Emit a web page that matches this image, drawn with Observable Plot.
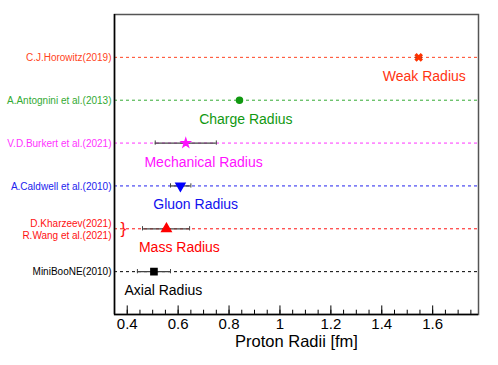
<!DOCTYPE html>
<html>
<head>
<meta charset="utf-8">
<script src="https://cdn.jsdelivr.net/npm/d3@7"></script>
<script src="https://cdn.jsdelivr.net/npm/@observablehq/plot@0.6"></script>
<style>
  html, body { margin: 0; padding: 0; background: #fff; }
  svg { display: block; }
</style>
</head>
<body>
<div id="chart"></div>
<script>
// Rows, from top to bottom
const refs = ["C.J.Horowitz(2019)", "A.Antognini et al.(2013)", "V.D.Burkert et al.(2021)", "A.Caldwell et al.(2010)", "D.Kharzeev(2021)\nR.Wang et al.(2021)", "MiniBooNE(2010)"];
const radiusNames = ["Weak Radius", "Charge Radius", "Mechanical Radius", "Gluon Radius", "Mass Radius", "Axial Radius"];
const rowPos = [6, 5, 4, 3, 2, 1];
const values = [1.545, 0.841, 0.63, 0.609, 0.554, 0.505];
const errLow = [1.535, 0.840, 0.51, 0.57, 0.46, 0.44];
const errHigh = [1.555, 0.842, 0.75, 0.65, 0.645, 0.57];
const labelOffsetX = [1.567, 0.866, 0.70, 0.669, 0.605, 0.542];
const refColors = ["#ff4422", "#33aa33", "#ff33ff", "#2222ee", "#ff1111", "#000000"];
const markColors = ["#ff3300", "#119911", "#ff11ff", "#0000ff", "#ff0000", "#000000"];
const labelColors = ["#ff3311", "#119911", "#ff11ff", "#1111ee", "#ff0000", "#000000"];
const symbols = ["times", "circle", "star", "triangle", "triangle", "square"];
const rotations = [0, 0, 0, 180, 0, 0];
const sizes = [4.5, 4.5, 3.3, 5.5, 6, 6];
const majorTicks = [0.4, 0.6, 0.8, 1.0, 1.2, 1.4, 1.6];
const minorTicks = d3.range(0.35, 1.78, 0.05).map(v => +v.toFixed(2));
const xDomain = [0.35, 1.78];

const rows = refs.map((r, i) => ({
  ref: r, name: radiusNames[i], y: rowPos[i], v: values[i],
  lo: errLow[i], hi: errHigh[i], lx: labelOffsetX[i],
  rc: refColors[i], mc: markColors[i], lc: labelColors[i],
  sym: symbols[i], rot: rotations[i], r: sizes[i]
}));
const hasErr = rows.filter(d => d.hi - d.lo > 0.005);

const plot = Plot.plot({
  width: 498, height: 365,
  marginLeft: 114, marginRight: 20, marginTop: 14, marginBottom: 51,
  style: { fontFamily: "'Liberation Sans', Arial, Helvetica, sans-serif", background: "#fff" },
  x: { domain: xDomain },
  y: { domain: [0, 7], axis: null },
  marks: [
    // dashed row guides
    Plot.ruleY(rows, { y: "y", stroke: "rc", strokeDasharray: "3,3", strokeWidth: 1 }),
    // error bars
    Plot.ruleY(hasErr, { y: "y", x1: "lo", x2: "hi", stroke: "#444", strokeWidth: 1.3 }),
    Plot.ruleX(hasErr, { x: "lo", y1: d => d.y - 0.05, y2: d => d.y + 0.05, stroke: "#444", strokeWidth: 1 }),
    Plot.ruleX(hasErr, { x: "hi", y1: d => d.y - 0.05, y2: d => d.y + 0.05, stroke: "#444", strokeWidth: 1 }),
    // markers
    Plot.dot(rows.filter(d => d.sym !== "times"), { x: "v", y: "y", symbol: "sym", fill: "mc", stroke: "mc", r: "r", rotate: "rot" }),
    Plot.dot(rows.filter(d => d.sym === "times"), { x: "v", y: "y", symbol: "times", stroke: "mc", r: "r", strokeWidth: 3.2 }),
    // radius names under each row
    Plot.text(rows, { x: "lx", y: "y", text: "name", fill: "lc", dy: 19, fontSize: 14 }),
    // reference labels left of frame
    Plot.text(rows, { y: "y", text: "ref", fill: "rc", frameAnchor: "left", textAnchor: "end", dx: -3, fontSize: 10, lineHeight: 1.2 }),
    // brace for the two mass-radius references
    Plot.text(rows.filter(d => d.ref.includes("\n")), { y: "y", text: () => "}", fill: "#ff1111", frameAnchor: "left", dx: 6, fontSize: 17 }),
    // inward ticks
    Plot.ruleX(minorTicks, { x: d => d, y1: 0, y2: 0.1, stroke: "#000", strokeWidth: 1 }),
    Plot.ruleX(majorTicks, { x: d => d, y1: 0, y2: 0.2, stroke: "#000", strokeWidth: 1 }),
    Plot.axisX({ ticks: majorTicks, tickSize: 0, tickPadding: 4, tickFormat: d3.format("~g"), fontSize: 15,
      label: null }),
    Plot.text(["Proton Radii [fm]"], { frameAnchor: "bottom", dy: 32, fontSize: 16.5, fill: "#000" }),
    // frame
    Plot.frame({ stroke: "#555", strokeWidth: 1.5 }),
    Plot.ruleX([xDomain[0]], { stroke: "#000", strokeWidth: 1.5 }),
    Plot.ruleY([0], { stroke: "#000", strokeWidth: 1.5 })
  ]
});
document.getElementById("chart").appendChild(plot);
</script>
</body>
</html>
